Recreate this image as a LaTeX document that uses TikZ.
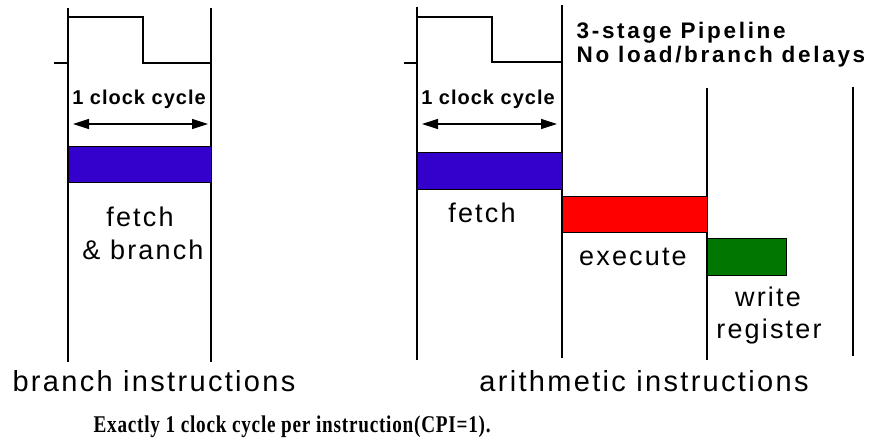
\documentclass[tikz,border=0pt]{standalone}
\usepackage{fontspec}
\setmainfont{Liberation Sans}
\newfontfamily\labfont[LetterSpace=8]{Liberation Sans}
\newfontfamily\cycfont[LetterSpace=5]{Liberation Sans Bold}
\newfontfamily\ttlfont[LetterSpace=12]{Liberation Sans Bold}
\newfontfamily\serfont[LetterSpace=4]{Liberation Serif Bold}
\usetikzlibrary{arrows.meta}
\definecolor{fetchblue}{RGB}{51,0,204}
\definecolor{exred}{RGB}{255,0,0}
\definecolor{wrgreen}{RGB}{0,119,0}
\begin{document}
\begin{tikzpicture}[x=1pt,y=-1pt,line width=1.2pt,
  lbl/.style={font=\labfont\fontsize{27}{30}\selectfont,anchor=base,inner sep=0pt},
  biglbl/.style={font=\labfont\fontsize{29}{31}\selectfont,anchor=base,inner sep=0pt},
  cyc/.style={font=\cycfont\fontsize{20}{22}\selectfont,anchor=base,inner sep=0pt},
  ttl/.style={font=\ttlfont\fontsize{22.5}{24}\selectfont,anchor=base west,inner sep=0pt},
  stagebar/.style={draw=black,line width=1.2pt,minimum height=36pt,inner sep=0pt,anchor=north west},
  dbl/.style={{Triangle[length=16pt,width=10pt]}-{Triangle[length=16pt,width=10pt]},line width=1.2pt}]
\useasboundingbox (0,0) rectangle (871,443);
% ---------- left panel ----------
\coordinate (A1t) at (68,8);  \coordinate (A1b) at (68,362);
\coordinate (A2t) at (211,8); \coordinate (A2b) at (211,362);
\draw (A1t) -- (A1b);
\draw (A2t) -- (A2b);
\draw (54,63) -- (68,63) -- (68,17) -- (143,17) -- (143,63) -- (211,63);
\node[cyc] (cycA) at (139,105) {1 clock cycle};
\coordinate (arA1) at (73,124); \coordinate (arA2) at (208,124);
\draw[dbl] (arA1) -- (arA2);
\node[stagebar,fill=fetchblue,minimum width=143pt] (fbA) at (68,146) {};
\node[lbl] (fA) at (140,227) {fetch};
\node[lbl] (bA) at (143,260) {\& branch};
\node[biglbl] (brI) at (154,392) {branch instructions};
% ---------- right panel ----------
\coordinate (B1t) at (417,7);  \coordinate (B1b) at (417,360);
\coordinate (B2t) at (562,5);  \coordinate (B2b) at (562,358);
\coordinate (B3t) at (707,88); \coordinate (B3b) at (707,360);
\coordinate (B4t) at (853,87); \coordinate (B4b) at (853,356);
\draw (B1t) -- (B1b);
\draw (B2t) -- (B2b);
\draw (B3t) -- (B3b);
\draw (B4t) -- (B4b);
\draw (404,63) -- (417,63) -- (417,17) -- (492,17) -- (492,62) -- (562,62);
\node[cyc] (cycB) at (488,105) {1 clock cycle};
\coordinate (arB1) at (422,124); \coordinate (arB2) at (557,124);
\draw[dbl] (arB1) -- (arB2);
\node[stagebar,fill=fetchblue,minimum width=145pt,minimum height=37pt] (fbB) at (417,152) {};
\node[stagebar,fill=exred,minimum width=145pt] (exB) at (562,196) {};
\node[stagebar,fill=wrgreen,minimum width=79pt,minimum height=37pt] (wrB) at (707,238) {};
\node[lbl] (fB) at (482,223) {fetch};
\node[lbl] (eB) at (633,266) {execute};
\node[lbl] (wB) at (768,307) {write};
\node[lbl] (rB) at (769,339) {register};
\node[biglbl] (arI) at (644,392) {arithmetic instructions};
\node[ttl] (t1) at (576,39) {3-stage Pipeline};
\node[ttl] (t2) at (576,63) {No load/branch delays};
% ---------- footer ----------
\node[anchor=base west,inner sep=0pt,font=\serfont\fontsize{24}{26}\selectfont] (foot) at (93,433)
  {\scalebox{0.8}[1]{Exactly 1 clock cycle per instruction(CPI=1).}};
\end{tikzpicture}
\end{document}
